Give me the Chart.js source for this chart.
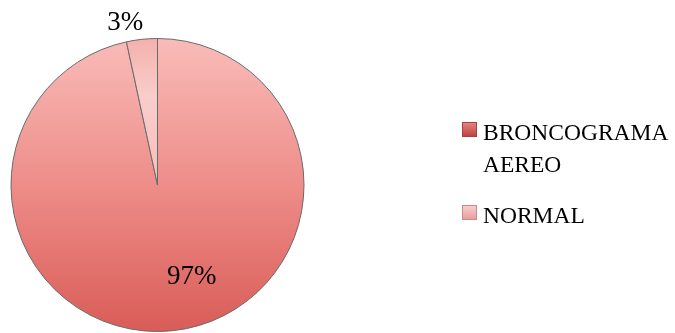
<!DOCTYPE html>
<html>
<head>
<meta charset="utf-8">
<script src="https://cdn.jsdelivr.net/npm/chart.js@4.4.1/dist/chart.umd.min.js"></script>
<style>
  html, body { margin: 0; padding: 0; background: #fff; }
  #wrap { width: 675px; height: 333px; }
</style>
</head>
<body>
<div id="wrap"><canvas id="pieChart" width="675" height="333"></canvas></div>
<script>
const categories = ["BRONCOGRAMA AEREO", "NORMAL"];
const values = [96.6, 3.4];

const serif = "'Liberation Serif', 'DejaVu Serif', serif";

function pct(i) {
  const total = values.reduce((a, b) => a + b, 0);
  return Math.round(values[i] / total * 100) + "%";
}

function sliceFill(ctx) {
  const chart = ctx.chart;
  const area = chart.chartArea;
  if (!area) return "#ee8c88";
  const g = chart.ctx.createLinearGradient(0, area.top, 0, area.bottom);
  if (ctx.dataIndex === 0) {
    g.addColorStop(0, "#f9bcb9");
    g.addColorStop(0.5, "#ee8d89");
    g.addColorStop(1, "#d95c57");
  } else {
    g.addColorStop(0, "#f4b0ad");
    g.addColorStop(0.2, "#f9cdcb");
    g.addColorStop(1, "#f2a5a2");
  }
  return g;
}

// draws the percentage labels and the legend on the right
const labelPlugin = {
  id: "labelPlugin",
  afterDraw(chart) {
    const ctx = chart.ctx;
    const arcs = chart.getDatasetMeta(0).data;
    ctx.save();
    ctx.fillStyle = "#000";
    ctx.font = "27px " + serif;
    ctx.textAlign = "center";
    ctx.textBaseline = "middle";
    arcs.forEach((arc, i) => {
      const p = arc.getProps(["x", "y", "startAngle", "endAngle", "outerRadius"], true);
      let mid = (p.startAngle + p.endAngle) / 2;
      let r;
      if (p.endAngle - p.startAngle < 0.6) {
        mid -= 0.09;
        r = p.outerRadius + 19;
      } else {
        mid -= 0.25;
        r = p.outerRadius * 0.67;
      }
      ctx.fillText(pct(i), p.x + Math.cos(mid) * r, p.y + Math.sin(mid) * r);
    });

    // legend
    const lx = 462, box = 15, tx = 483, maxW = 195, lineH = 32;
    let y = 140;
    ctx.textAlign = "left";
    ctx.textBaseline = "alphabetic";
    ctx.font = "23.5px " + serif;
    categories.forEach((cat, i) => {
      const words = cat.split(" ");
      const lines = [];
      let cur = "";
      words.forEach(w => {
        const test = cur ? cur + " " + w : w;
        if (ctx.measureText(test).width > maxW && cur) { lines.push(cur); cur = w; }
        else cur = test;
      });
      lines.push(cur);

      const g = ctx.createLinearGradient(0, y - 18, 0, y - 18 + box);
      if (i === 0) { g.addColorStop(0, "#e88884"); g.addColorStop(1, "#b8403c"); }
      else { g.addColorStop(0, "#f9d0ce"); g.addColorStop(1, "#e49d9a"); }
      ctx.fillStyle = g;
      ctx.fillRect(lx, y - 18, box, box);
      ctx.strokeStyle = i === 0 ? "#a8403c" : "#c98a88";
      ctx.lineWidth = 1;
      ctx.strokeRect(lx + 0.5, y - 17.5, box - 1, box - 1);

      ctx.fillStyle = "#000";
      lines.forEach((ln, k) => ctx.fillText(ln, tx, y + k * lineH));
      y += (lines.length - 1) * lineH + 51;
    });
    ctx.restore();
  }
};

new Chart(document.getElementById("pieChart"), {
  type: "pie",
  data: {
    labels: categories,
    datasets: [{
      data: values,
      backgroundColor: sliceFill,
      borderColor: "#6a6a6a",
      borderWidth: 1
    }]
  },
  options: {
    responsive: false,
    animation: false,
    layout: { padding: { left: 10, top: 38, right: 370, bottom: 1 } },
    plugins: {
      legend: { display: false },
      tooltip: { enabled: false }
    }
  },
  plugins: [labelPlugin]
});
</script>
</body>
</html>
